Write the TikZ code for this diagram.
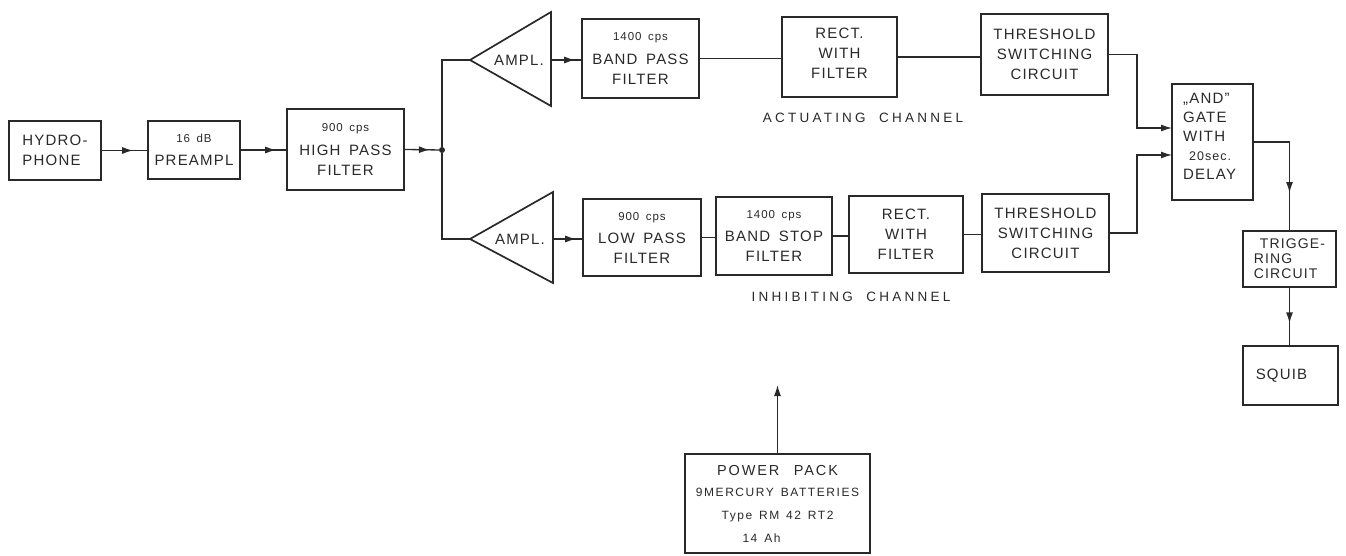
\documentclass[tikz,border=0pt]{standalone}
\usepackage{fontspec}
\setmainfont{Liberation Sans}[LetterSpace=8,WordSpace=1.6]
\newfontfamily\labfont{Liberation Sans}[LetterSpace=24,WordSpace=1.6]
\newfontfamily\ppfont{Liberation Sans}[LetterSpace=13,WordSpace=1.4]
\usetikzlibrary{arrows.meta,decorations.markings}
\newcommand\mybig{\fontsize{15}{20}\selectfont}
\newcommand\mysmall{\fontsize{11.5}{20}\selectfont}
\newcommand\mymid{\fontsize{12.5}{19}\selectfont}
\definecolor{ink}{gray}{0.16}
\tikzset{
  box/.style={draw=ink, line width=1.7pt, inner sep=0pt, align=center, text=ink, font=\mybig},
  wire/.style={draw=ink, line width=1.3pt},
  tip/.style={-{Latex[length=11pt,width=7pt]}},
  tipat/.style={postaction={decorate},
    decoration={markings, mark=at position #1 with {\arrow{Latex[length=11pt,width=7pt]}}}},
  lab/.style={text=ink, font=\labfont\fontsize{13.5}{16}\selectfont, inner sep=0pt},
  txt/.style={text=ink, font=\mybig, inner sep=0pt},
  amp/.style={draw=ink, line width=1.7pt, line join=miter},
}
\begin{document}
\begin{tikzpicture}[x=1pt, y=-1pt]
\useasboundingbox (0,0) rectangle (1346,556);
% first chain
\node[box, minimum width=92, minimum height=59, align=left] (hyd) at (55,150.5) {HYDRO-\\PHONE};
\node[box, minimum width=92, minimum height=58] (pre) at (194,150) {{\mysmall 16 dB}\\[3pt]PREAMPL};
\node[box, minimum width=117, minimum height=81] (hp) at (345.5,149.5) {{\mysmall 900 cps}\\[4pt]HIGH PASS\\FILTER};
\node[circle, fill=ink, inner sep=0pt, minimum size=6pt] (jn) at (442,150) {};
\draw[wire, tipat=-14pt] (hyd.east) -- (hyd.east -| pre.west);
\draw[wire, tipat=-10pt] (pre.east) -- (pre.east -| hp.west);
\draw[wire, tipat=-9pt] (hp.east) -- (jn);
% amplifiers
\coordinate (a1tip) at (470,60);
\coordinate (a1out) at (551,60);
\draw[amp] (a1tip) -- (551,12) -- (551,106) -- cycle;
\node[txt] (amp1) at (519,60) {AMPL.};
\coordinate (a2tip) at (470,239);
\coordinate (a2out) at (553,239);
\draw[amp] (a2tip) -- (553,192) -- (553,283) -- cycle;
\node[txt] (amp2) at (520,239) {AMPL.};
\draw[wire] (jn) |- (a1tip);
\draw[wire] (jn) |- (a2tip);
% actuating channel
\node[box, minimum width=117, minimum height=79] (bp) at (640.5,58.5) {{\mysmall 1400 cps}\\[4pt]BAND PASS\\FILTER};
\node[box, minimum width=115, minimum height=80] (rect1) at (839.5,57) {RECT.\\WITH\\FILTER\\[-12pt]\mbox{}};
\node[box, minimum width=127, minimum height=81] (th1) at (1044.5,54.5) {THRESHOLD\\SWITCHING\\CIRCUIT};
\draw[wire, tipat=-6pt] (a1out) -- (a1out -| bp.west);
\draw[wire] (bp.east) -- (bp.east -| rect1.west);
\draw[wire] (rect1.east) -- (rect1.east -| th1.west);
\node[lab] (actlab) at (863,118) {ACTUATING\quad CHANNEL};
% inhibiting channel
\node[box, minimum width=118, minimum height=77] (lp) at (642,237.5) {{\mysmall 900 cps}\\[3pt]LOW PASS\\FILTER};
\node[box, minimum width=116, minimum height=78] (bs) at (774,236) {{\mysmall 1400 cps}\\[3pt]BAND STOP\\FILTER};
\node[box, minimum width=114, minimum height=77] (rect2) at (906,234.5) {RECT.\\WITH\\FILTER};
\node[box, minimum width=127, minimum height=78] (th2) at (1045.5,233) {THRESHOLD\\SWITCHING\\CIRCUIT};
\draw[wire, tipat=-6pt] (a2out) -- (a2out -| lp.west);
\draw[wire] (lp.east) -- (lp.east -| bs.west);
\draw[wire] (bs.east) -- (bs.east -| rect2.west);
\draw[wire] (rect2.east) -- (rect2.east -| th2.west);
\node[lab] (inhlab) at (851,297) {INHIBITING\quad CHANNEL};
% and gate
\node[box, minimum width=81, minimum height=116] (and) at (1212.5,142) {};
\node[txt, anchor=north west, align=left, font=\fontsize{15}{19}\selectfont] (andtxt) at (1183,93)
  {\char"201E AND\char"201D\\GATE\\WITH\\\hspace*{6pt}{\mymid 20sec.}\\DELAY};
\coordinate (in1) at (1172,128);
\coordinate (in2) at (1172,155);
\draw[wire, tip] (th1.east) -| ([xshift=-35pt]in1) -- (in1);
\draw[wire, tip] (th2.east) -| ([xshift=-35pt]in2) -- (in2);
% output chain
\node[box, minimum width=93, minimum height=56, align=left, font=\fontsize{14}{15}\selectfont] (trig) at (1289.5,259)
  {\hspace*{6pt}TRIGGE-\\RING\\CIRCUIT};
\node[box, minimum width=95, minimum height=59] (squib) at (1290.5,375.5) {SQUIB\hspace*{18pt}};
\draw[wire, tipat=0.7] (and.east) -| (trig.north);
\draw[wire, tipat=0.62] (trig.south) -- (trig.south |- squib.north);
% power pack
\node[box, minimum width=185, minimum height=99, font=\ppfont\fontsize{12}{23}\selectfont] (pp) at (777.5,503.5)
  {{\fontsize{14.5}{20}\selectfont POWER\quad PACK}\\[-2pt]9MERCURY BATTERIES\\Type RM 42 RT2\\14 Ah\hspace*{32pt}};
\coordinate (pwrtip) at (777.5,385);
\draw[wire, tip] (pp.north) -- (pwrtip);
\end{tikzpicture}
\end{document}
